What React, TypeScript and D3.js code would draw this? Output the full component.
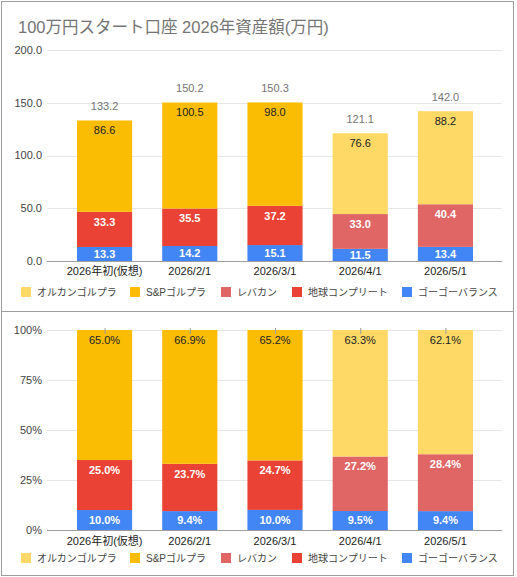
import React, { useEffect, useRef } from 'react';
import * as d3 from 'd3';

const categories: string[] = ['2026年初(仮想)', '2026/2/1', '2026/3/1', '2026/4/1', '2026/5/1'];

// series, bottom of the stack first
const seriesNames: string[] = ['ゴーゴーバランス', '地球コンプリート', 'レバカン', 'S&Pゴルプラ', 'オルカンゴルプラ'];
const seriesColors: string[] = ['#4285F4', '#EA4335', '#E06666', '#FBBC04', '#FFD966'];
const labelColors: string[] = ['#ffffff', '#ffffff', '#ffffff', '#222222', '#222222'];

// 万円
const gogoBalance: number[] = [13.3, 14.2, 15.1, 11.5, 13.4];
const chikyuComplete: number[] = [33.3, 35.5, 37.2, 0, 0];
const rebakan: number[] = [0, 0, 0, 33.0, 40.4];
const spGolpla: number[] = [86.6, 100.5, 98.0, 0, 0];
const orkanGolpla: number[] = [0, 0, 0, 76.6, 88.2];

// % shares as labelled on the second chart
const gogoBalancePct: number[] = [10.0, 9.4, 10.0, 9.5, 9.4];
const chikyuCompletePct: number[] = [25.0, 23.7, 24.7, 0, 0];
const rebakanPct: number[] = [0, 0, 0, 27.2, 28.4];
const spGolplaPct: number[] = [65.0, 66.9, 65.2, 0, 0];
const orkanGolplaPct: number[] = [0, 0, 0, 63.3, 62.1];

const amountTicks: number[] = [0, 50, 100, 150, 200];
const pctTicks: number[] = [0, 0.25, 0.5, 0.75, 1];

const title = '100万円スタート口座 2026年資産額(万円)';

const FONT = '"Liberation Sans", Arial, "Noto Sans CJK JP", sans-serif';

// legend swatch x positions, top of stack first
const legendX: number[] = [21, 130, 221, 292, 402];

const App: React.FC = () => {
  const ref = useRef<SVGSVGElement | null>(null);

  useEffect(() => {
    if (!ref.current) return;
    const svg = d3.select(ref.current);
    svg.selectAll('*').remove();
    svg.attr('font-family', FONT);

    const amounts = [gogoBalance, chikyuComplete, rebakan, spGolpla, orkanGolpla];
    const pcts = [gogoBalancePct, chikyuCompletePct, rebakanPct, spGolplaPct, orkanGolplaPct];

    const rows = categories.map((c, i) => {
      const r: Record<string, number | string> = { cat: c };
      seriesNames.forEach((s, k) => (r[s] = amounts[k][i]));
      return r;
    });
    const stacked = d3
      .stack<Record<string, number | string>>()
      .keys(seriesNames)
      .value((d, key) => d[key] as number)(rows);
    const stackedPct = d3
      .stack<Record<string, number | string>>()
      .keys(seriesNames)
      .value((d, key) => d[key] as number)
      .offset(d3.stackOffsetExpand)(rows);
    const totals = categories.map((_, i) => d3.sum(amounts, (a) => a[i]));

    const x = d3.scaleBand<string>().domain(categories).range([62, 488]).paddingInner(0.353).paddingOuter(0.176);

    // panel frames
    svg.append('rect').attr('x', 1.5).attr('y', 1.5).attr('width', 512).attr('height', 310)
      .attr('fill', '#fff').attr('stroke', '#9e9e9e');
    svg.append('rect').attr('x', 1.5).attr('y', 311.5).attr('width', 512).attr('height', 264)
      .attr('fill', '#fff').attr('stroke', '#9e9e9e');

    svg.append('text').attr('x', 18).attr('y', 33).attr('font-size', 16.5).attr('fill', '#757575').text(title);

    const drawPanel = (
      g: d3.Selection<SVGGElement, unknown, null, undefined>,
      y: d3.ScaleLinear<number, number>,
      ticks: number[],
      tickFmt: (v: number) => string,
      series: d3.Series<Record<string, number | string>, string>[],
      labelText: (k: number, i: number) => string,
      legendY: number,
      xLabelY: number,
    ) => {
      // grid
      g.selectAll('.grid').data(ticks).enter().append('line')
        .attr('x1', 47).attr('x2', 502)
        .attr('y1', (d) => Math.round(y(d)) + 0.5).attr('y2', (d) => Math.round(y(d)) + 0.5)
        .attr('stroke', (d) => (d === 0 ? '#9e9e9e' : '#e6e6e6'));
      g.selectAll('.ytick').data(ticks).enter().append('text')
        .attr('x', 42).attr('y', (d) => y(d)).attr('dy', '0.35em')
        .attr('text-anchor', 'end').attr('font-size', 11).attr('fill', '#444')
        .text((d) => tickFmt(d));

      series.forEach((s, k) => {
        s.forEach((seg, i) => {
          const v = seg[1] - seg[0];
          if (v <= 0) return;
          const top = y(seg[1]);
          const bot = y(seg[0]);
          g.append('rect')
            .attr('x', x(categories[i]) || 0).attr('width', x.bandwidth())
            .attr('y', top).attr('height', bot - top)
            .attr('fill', seriesColors[k]);
          const cy = Math.min(top + 10, (top + bot) / 2);
          g.append('text')
            .attr('x', (x(categories[i]) || 0) + x.bandwidth() / 2).attr('y', cy).attr('dy', '0.35em')
            .attr('text-anchor', 'middle').attr('font-size', 11)
            .attr('font-weight', labelColors[k] === '#ffffff' ? 'bold' : 'normal')
            .attr('fill', labelColors[k]).text(labelText(k, i));
        });
      });

      g.selectAll('.xlab').data(categories).enter().append('text')
        .attr('x', (d) => (x(d) || 0) + x.bandwidth() / 2).attr('y', xLabelY).attr('dy', '0.35em')
        .attr('text-anchor', 'middle').attr('font-size', 11).attr('fill', '#222')
        .text((d) => d);

      // legend, top of stack first
      const order = [4, 3, 2, 1, 0];
      order.forEach((k, j) => {
        const lx = legendX[j];
        g.append('rect').attr('x', lx).attr('y', legendY - 5).attr('width', 10).attr('height', 10)
          .attr('fill', seriesColors[k]);
        g.append('text').attr('x', lx + 16).attr('y', legendY).attr('dy', '0.35em')
          .attr('font-size', 10).attr('fill', '#444').text(seriesNames[k]);
      });
    };

    // amount chart
    const yA = d3.scaleLinear().domain([0, 200]).range([261, 50]);
    const gA = svg.append('g');
    drawPanel(gA, yA, amountTicks, (v) => v.toFixed(1), stacked,
      (k, i) => amounts[k][i].toFixed(1), 292, 271);
    gA.selectAll('.total').data(categories).enter().append('text')
      .attr('x', (d) => (x(d) || 0) + x.bandwidth() / 2)
      .attr('y', (_, i) => yA(totals[i]) - 14).attr('dy', '0.35em')
      .attr('text-anchor', 'middle').attr('font-size', 11).attr('fill', '#757575')
      .text((_, i) => totals[i].toFixed(1));

    // percentage chart
    const yP = d3.scaleLinear().domain([0, 1]).range([530, 330]);
    const gP = svg.append('g');
    drawPanel(gP, yP, pctTicks, (v) => `${Math.round(v * 100)}%`, stackedPct,
      (k, i) => `${pcts[k][i].toFixed(1)}%`, 558, 541);
    gP.selectAll('.stem').data(categories).enter().append('line')
      .attr('x1', (d) => (x(d) || 0) + x.bandwidth() / 2 + 0.5)
      .attr('x2', (d) => (x(d) || 0) + x.bandwidth() / 2 + 0.5)
      .attr('y1', yP(1) - 2).attr('y2', yP(1) + 4)
      .attr('stroke', '#9e9e9e');
  }, []);

  return (
    <svg ref={ref} width={517} height={577} style={{ position: 'absolute', left: 0, top: 0 }} />
  );
};

export default App;
